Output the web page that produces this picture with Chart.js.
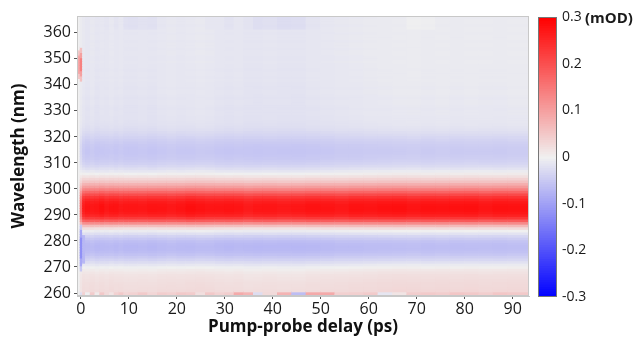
<!DOCTYPE html>
<html lang="en">
<head>
  <meta charset="UTF-8">
  <title>Transient absorption map</title>
  <script src="https://cdn.jsdelivr.net/npm/chart.js"></script>
  <style>
    body {
      margin: 0;
      background: #fff;
    }

    .wrap {
      position: relative;
      width: 634px;
      height: 339px;
      font-family: 'Open Sans', sans-serif;
    }

    #mapChart { position: absolute; left: 0; top: 0; }
    #barChart { position: absolute; left: 530px; top: 0; }

    .unit {
      position: absolute;
      left: 585px;
      top: 7px;
      font-size: 15px;
      line-height: 20px;
      font-weight: 700;
      color: #1a1a1a;
    }
  </style>
</head>
<body>

  <div class="wrap">
    <canvas id="mapChart" width="634" height="339"></canvas>
    <canvas id="barChart" width="104" height="339"></canvas>
    <span class="unit">(mOD)</span>
  </div>

  <script>
    // column edges of the delay axis (ps)
    const delays = [
      -0.8, -0.1, 0.4, 1,
      2, 3, 4, 5, 6, 7, 8, 9, 10,
      12, 14, 16, 18, 20, 22, 24, 26, 28, 30, 32, 34, 36, 38,
      41, 44, 47, 50, 53, 56, 59, 62, 65, 68, 71, 74, 77, 80, 83, 86, 89,
      93.5
    ];

    // probe wavelengths (nm), one row each
    const wavelengths = [
      259, 260, 261, 262, 263, 264, 265, 266, 267, 268,
      269, 270, 271, 272, 273, 274, 275, 276, 277, 278,
      279, 280, 281, 282, 283, 284, 285, 286, 287, 288,
      289, 290, 291, 292, 293, 294, 295, 296, 297, 298,
      299, 300, 301, 302, 303, 304, 305, 306, 307, 308,
      309, 310, 311, 312, 313, 314, 315, 316, 317, 318,
      319, 320, 321, 322, 323, 324, 325, 326, 327, 328,
      329, 330, 331, 332, 333, 334, 335, 336, 337, 338,
      339, 340, 341, 342, 343, 344, 345, 346, 347, 348,
      349, 350, 351, 352, 353, 354, 355, 356, 357, 358,
      359, 360, 361, 362, 363, 364, 365, 366, 367
    ];

    // difference absorption spectrum (mOD) after the pump, per wavelength row
    const spectrum = [
      0.03, 0.03, 0.028, 0.026, 0.025, 0.024, 0.022, 0.02, 0.018, 0.014,
      0.008, 0.0, -0.011, -0.023, -0.035, -0.046, -0.055, -0.062, -0.066, -0.067,
      -0.065, -0.06, -0.05, -0.037, -0.02, -0.004, 0.022, 0.065, 0.125, 0.185,
      0.23, 0.257, 0.27, 0.276, 0.277, 0.275, 0.268, 0.255, 0.235, 0.207,
      0.172, 0.138, 0.106, 0.079, 0.055, 0.035, 0.018, 0.003, -0.01, -0.02,
      -0.03, -0.037, -0.042, -0.046, -0.048, -0.05, -0.05, -0.049, -0.047, -0.044,
      -0.04, -0.035, -0.03, -0.026, -0.022, -0.019, -0.017, -0.016, -0.015, -0.015,
      -0.014, -0.014, -0.015, -0.014, -0.013, -0.013, -0.014, -0.013, -0.012, -0.012,
      -0.013, -0.012, -0.012, -0.011, -0.012, -0.011, -0.011, -0.012, -0.011, -0.011,
      -0.01, -0.011, -0.011, -0.01, -0.01, -0.011, -0.01, -0.01, -0.011, -0.01,
      -0.01, -0.011, -0.01, -0.01, -0.011, -0.01, -0.01, -0.011, -0.012
    ];

    // relative strength of that spectrum in each delay column
    const columnScale = [
      0, 0.6, 0.95, 1, 0.98, 1, 1.02, 0.99, 1, 1.01, 0.98, 1, 1,
      0.99, 1.01, 1, 0.98, 1, 1.02, 1, 0.99, 1, 1.01, 1, 0.98, 1, 1,
      0.99, 1, 1.01, 1, 0.98, 1, 0.99, 1, 1, 0.98, 1, 0.99, 1, 1, 0.98, 1, 0.99
    ];

    // small baseline drift per column (mOD)
    const columnShift = [
      0, 0, 0, -0.002, 0, -0.003, -0.001, -0.002, 0, -0.002, -0.001, -0.003, -0.003,
      -0.002, -0.003, -0.001, 0, -0.001, 0, 0.001, 0, -0.002, -0.003, -0.002, -0.004, -0.004, -0.003,
      -0.004, -0.004, -0.002, -0.001, 0, 0.001, 0.002, 0.003, 0.004, 0.004, 0.003, 0.004, 0.003, 0.004, 0.003, 0.003, 0.004
    ];

    // top rows (>= 362 nm) and bottom rows (<= 260 nm) are noisier
    const topNoise = [
      0, 0, 0, 0, 0, 0, 0, -0.002, 0, -0.003, 0, -0.006, -0.007,
      -0.005, -0.006, -0.002, 0, 0, 0, 0, -0.002, 0, -0.003, 0, -0.002, -0.008, -0.007,
      -0.01, -0.009, -0.003, 0, 0, 0, 0, 0, 0, 0.004, 0.004, 0, 0, 0, 0, 0, 0
    ];
    const bottomNoise = [
      0, -0.04, 0.01, -0.03, 0.015, -0.02, 0.02, 0, -0.015, 0.01, 0.02, 0.005, 0.01,
      0.02, 0.005, 0.015, 0.01, 0.02, 0.015, -0.01, 0.02, 0.01, 0.015, 0.06, 0.05, -0.05, 0.0,
      0.05, -0.09, 0.06, 0.06, 0.01, 0.01, 0.015, -0.045, -0.02, 0.01, 0.015, 0.01, 0.02, 0.015, 0.01, 0.02, 0.015
    ];

    // features right at time zero: [column, from nm, to nm, mOD]
    const earlyBands = [
      [0, 343, 353, 0.05],
      [0, 345, 351, 0.09],
      [1, 342, 354, 0.06],
      [1, 344, 352, 0.1],
      [1, 346, 350, 0.14],
      [1, 269, 286, -0.05],
      [1, 271, 284, -0.09],
      [1, 274, 281, -0.12],
      [2, 272, 282, -0.07]
    ];

    const tickColor = '#1a1a1a';

    function mapColor(v) {
      const t = Math.max(-1, Math.min(1, v / 0.3));
      const mid = 240;
      let r, g, b;
      if (t >= 0) {
        r = mid + (255 - mid) * t;
        g = b = mid * (1 - t);
      } else {
        r = g = mid * (1 + t);
        b = mid + (255 - mid) * -t;
      }
      return 'rgb(' + Math.round(r) + ',' + Math.round(g) + ',' + Math.round(b) + ')';
    }

    const cells = [];
    for (let c = 0; c < delays.length - 1; c++) {
      for (let r = 0; r < wavelengths.length; r++) {
        const wl = wavelengths[r];
        let v = spectrum[r] * columnScale[c] + columnShift[c];
        if (wl >= 362) v += topNoise[c];
        if (wl <= 260) v += bottomNoise[c];
        earlyBands.forEach(b => {
          if (b[0] === c && wl >= b[1] && wl <= b[2]) v = b[3];
        });
        cells.push({ x: [delays[c], delays[c + 1]], y: wl, v: v });
      }
    }

    const frame = color => ({
      id: 'frame',
      afterDatasetsDraw(chart) {
        const a = chart.chartArea;
        const g = chart.ctx;
        g.save();
        g.strokeStyle = color;
        g.lineWidth = 1;
        g.strokeRect(Math.round(a.left) + 0.5, Math.round(a.top) + 0.5,
          Math.round(a.right - a.left) - 1, Math.round(a.bottom - a.top) - 1);
        g.restore();
      }
    });

    new Chart(document.getElementById('mapChart'), {
      type: 'bar',
      data: {
        datasets: [{
          data: cells,
          backgroundColor: ctx => mapColor(ctx.raw ? ctx.raw.v : 0),
          borderWidth: 0,
          barPercentage: 1,
          categoryPercentage: 1,
          inflateAmount: 0.6
        }]
      },
      options: {
        indexAxis: 'y',
        responsive: false,
        animation: false,
        layout: { padding: { top: 16, right: 105, left: 0, bottom: 0 } },
        plugins: {
          legend: { display: false },
          tooltip: { enabled: false }
        },
        scales: {
          x: {
            type: 'linear',
            min: -0.8,
            max: 93.4,
            offset: false,
            afterFit: s => { s.height = 43; },
            ticks: {
              stepSize: 10,
              includeBounds: false,
              color: tickColor,
              font: { family: 'Open Sans', size: 16 },
              padding: 1,
              maxRotation: 0
            },
            grid: { drawOnChartArea: false, tickLength: 3, tickColor: '#555', offset: false },
            border: { color: '#c8c8c8' },
            title: {
              display: true,
              text: 'Pump-probe delay (ps)',
              color: '#111',
              font: { family: 'Open Sans', size: 17, weight: 'bold' },
              padding: { top: 0, bottom: 2 }
            }
          },
          y: {
            type: 'linear',
            min: 258.85,
            max: 366.5,
            offset: false,
            afterFit: s => { s.width = 77; },
            ticks: {
              stepSize: 10,
              includeBounds: false,
              color: tickColor,
              font: { family: 'Open Sans', size: 16 },
              padding: 3
            },
            grid: { drawOnChartArea: false, tickLength: 3, tickColor: '#555', offset: false },
            border: { color: '#c8c8c8' },
            title: {
              display: true,
              text: 'Wavelength (nm)',
              color: '#111',
              font: { family: 'Open Sans', size: 17, weight: 'bold' },
              padding: { top: 9, bottom: 0 }
            }
          }
        }
      },
      plugins: [frame('#c8c8c8')]
    });

    // colour bar
    const barLevels = [];
    for (let i = -60; i <= 60; i++) barLevels.push(i * 0.005);

    new Chart(document.getElementById('barChart'), {
      type: 'bar',
      data: {
        datasets: [{
          data: barLevels.map(l => ({ x: [0, 1], y: l })),
          backgroundColor: barLevels.map(mapColor),
          borderWidth: 0,
          barPercentage: 1,
          categoryPercentage: 1,
          inflateAmount: 0.6
        }]
      },
      options: {
        indexAxis: 'y',
        responsive: false,
        animation: false,
        layout: { padding: { top: 17, right: 0, left: 8, bottom: 42 } },
        plugins: {
          legend: { display: false },
          tooltip: { enabled: false }
        },
        scales: {
          x: { type: 'linear', min: 0, max: 1, display: false },
          y: {
            type: 'linear',
            position: 'right',
            min: -0.3,
            max: 0.3,
            offset: false,
            afterFit: s => { s.width = 77; },
            ticks: {
              stepSize: 0.1,
              color: tickColor,
              font: { family: 'Open Sans', size: 14 },
              padding: 5,
              callback: v => String(Math.round(v * 10) / 10)
            },
            grid: { drawOnChartArea: false, drawTicks: false },
            border: { display: false }
          }
        }
      },
      plugins: [frame('#777')]
    });
  </script>

</body>
</html>
